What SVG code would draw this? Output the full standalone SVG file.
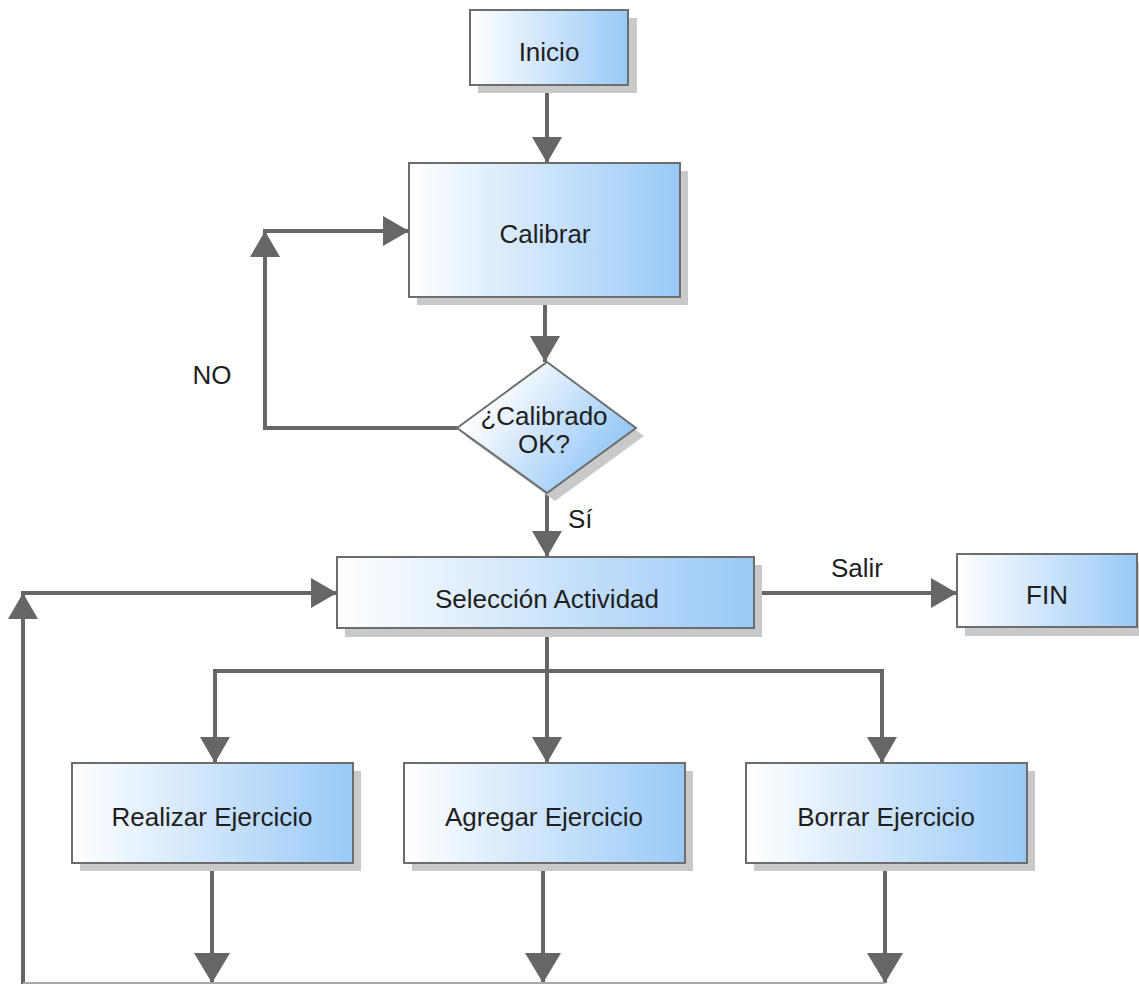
<svg xmlns="http://www.w3.org/2000/svg" width="1139" height="984" viewBox="0 0 1139 984">
  <defs>
    <linearGradient id="boxFill" x1="0" y1="0" x2="1" y2="0">
      <stop offset="0" stop-color="#ffffff"/>
      <stop offset="1" stop-color="#99c9f7"/>
    </linearGradient>
    <linearGradient id="diaFill" x1="0.2" y1="0.2" x2="0.9" y2="0.6">
      <stop offset="0" stop-color="#ffffff"/>
      <stop offset="1" stop-color="#99c9f7"/>
    </linearGradient>
    <marker id="arr" viewBox="0 0 26 30" refX="26" refY="15" markerWidth="26" markerHeight="30" markerUnits="userSpaceOnUse" orient="auto">
      <path d="M0,0 L26,15 L0,30 Z" fill="#666666"/>
    </marker>
    <marker id="arrBig" viewBox="0 0 30 36" refX="30" refY="18" markerWidth="30" markerHeight="36" markerUnits="userSpaceOnUse" orient="auto">
      <path d="M0,0 L30,18 L0,36 Z" fill="#666666"/>
    </marker>
  </defs>
  <style>
    .box { fill: url(#boxFill); stroke: #6d6d6d; stroke-width: 2; }
    .dia { fill: url(#diaFill); stroke: #6d6d6d; stroke-width: 2; }
    .shadow { fill: #c9c9c9; }
    .lbl { font-family: "Liberation Sans", Arial, sans-serif; font-size: 26px; fill: #1e1e1e; text-anchor: middle; }
    .edge { fill: none; stroke: #666666; stroke-width: 4; }
    .a { marker-end: url(#arr); }
    .ab { marker-end: url(#arrBig); }
  </style>
  <rect width="1139" height="984" fill="#ffffff"/>

  <g id="connectors">
    <path class="edge a" d="M547,85 V163"/>
    <path class="edge a" d="M545,297 V362"/>
    <path class="edge a" d="M457,428 H265 V231"/>
    <path class="edge a" d="M263,231 H409"/>
    <path class="edge a" d="M547,493 V557"/>
    <path class="edge a" d="M754,593 H957"/>
    <path class="edge a" d="M547,628 V763"/>
    <path class="edge a" d="M549,671 H215 V763"/>
    <path class="edge a" d="M545,671 H882 V763"/>
    <path class="edge ab" d="M212,863 V983"/>
    <path class="edge ab" d="M543,863 V983"/>
    <path class="edge ab" d="M885,863 V983"/>
    <path class="edge a" d="M23,984 V593"/>
    <path class="edge a" d="M21,593 H337"/>
    <line x1="23" y1="983" x2="885" y2="983" stroke="#a8a8a8" stroke-width="2"/>
    <text class="lbl" x="212" y="384">NO</text>
    <text class="lbl" x="568" y="528" style="text-anchor:start">Sí</text>
    <text class="lbl" x="857" y="577">Salir</text>
  </g>

  <g id="inicio">
    <rect class="shadow" x="478" y="18" width="159" height="75"/>
    <rect class="box" x="470" y="10" width="158" height="75"/>
    <text class="lbl" x="549" y="61">Inicio</text>
  </g>

  <g id="calibrar">
    <rect class="shadow" x="417" y="171" width="271" height="134"/>
    <rect class="box" x="409" y="163" width="271" height="134"/>
    <text class="lbl" x="545" y="243">Calibrar</text>
  </g>

  <g id="calibrado-ok">
    <polygon class="shadow" points="555,370 644,436 555,501 465,436"/>
    <polygon class="dia" points="547,362 636,428 547,493 457,428"/>
    <text class="lbl" x="544" y="425">¿Calibrado</text>
    <text class="lbl" x="544" y="453">OK?</text>
  </g>

  <g id="seleccion">
    <rect class="shadow" x="345" y="565" width="417" height="72"/>
    <rect class="box" x="337" y="557" width="417" height="71"/>
    <text class="lbl" x="547" y="608">Selección Actividad</text>
  </g>

  <g id="fin">
    <rect class="shadow" x="965" y="562" width="174" height="74"/>
    <rect class="box" x="957" y="554" width="180" height="73"/>
    <text class="lbl" x="1047" y="604">FIN</text>
  </g>

  <g id="realizar">
    <rect class="shadow" x="80" y="771" width="281" height="100"/>
    <rect class="box" x="72" y="763" width="281" height="100"/>
    <text class="lbl" x="212" y="826">Realizar Ejercicio</text>
  </g>

  <g id="agregar">
    <rect class="shadow" x="412" y="771" width="281" height="100"/>
    <rect class="box" x="404" y="763" width="281" height="100"/>
    <text class="lbl" x="544" y="826">Agregar Ejercicio</text>
  </g>

  <g id="borrar">
    <rect class="shadow" x="754" y="771" width="281" height="100"/>
    <rect class="box" x="746" y="763" width="281" height="100"/>
    <text class="lbl" x="886" y="826">Borrar Ejercicio</text>
  </g>
</svg>
